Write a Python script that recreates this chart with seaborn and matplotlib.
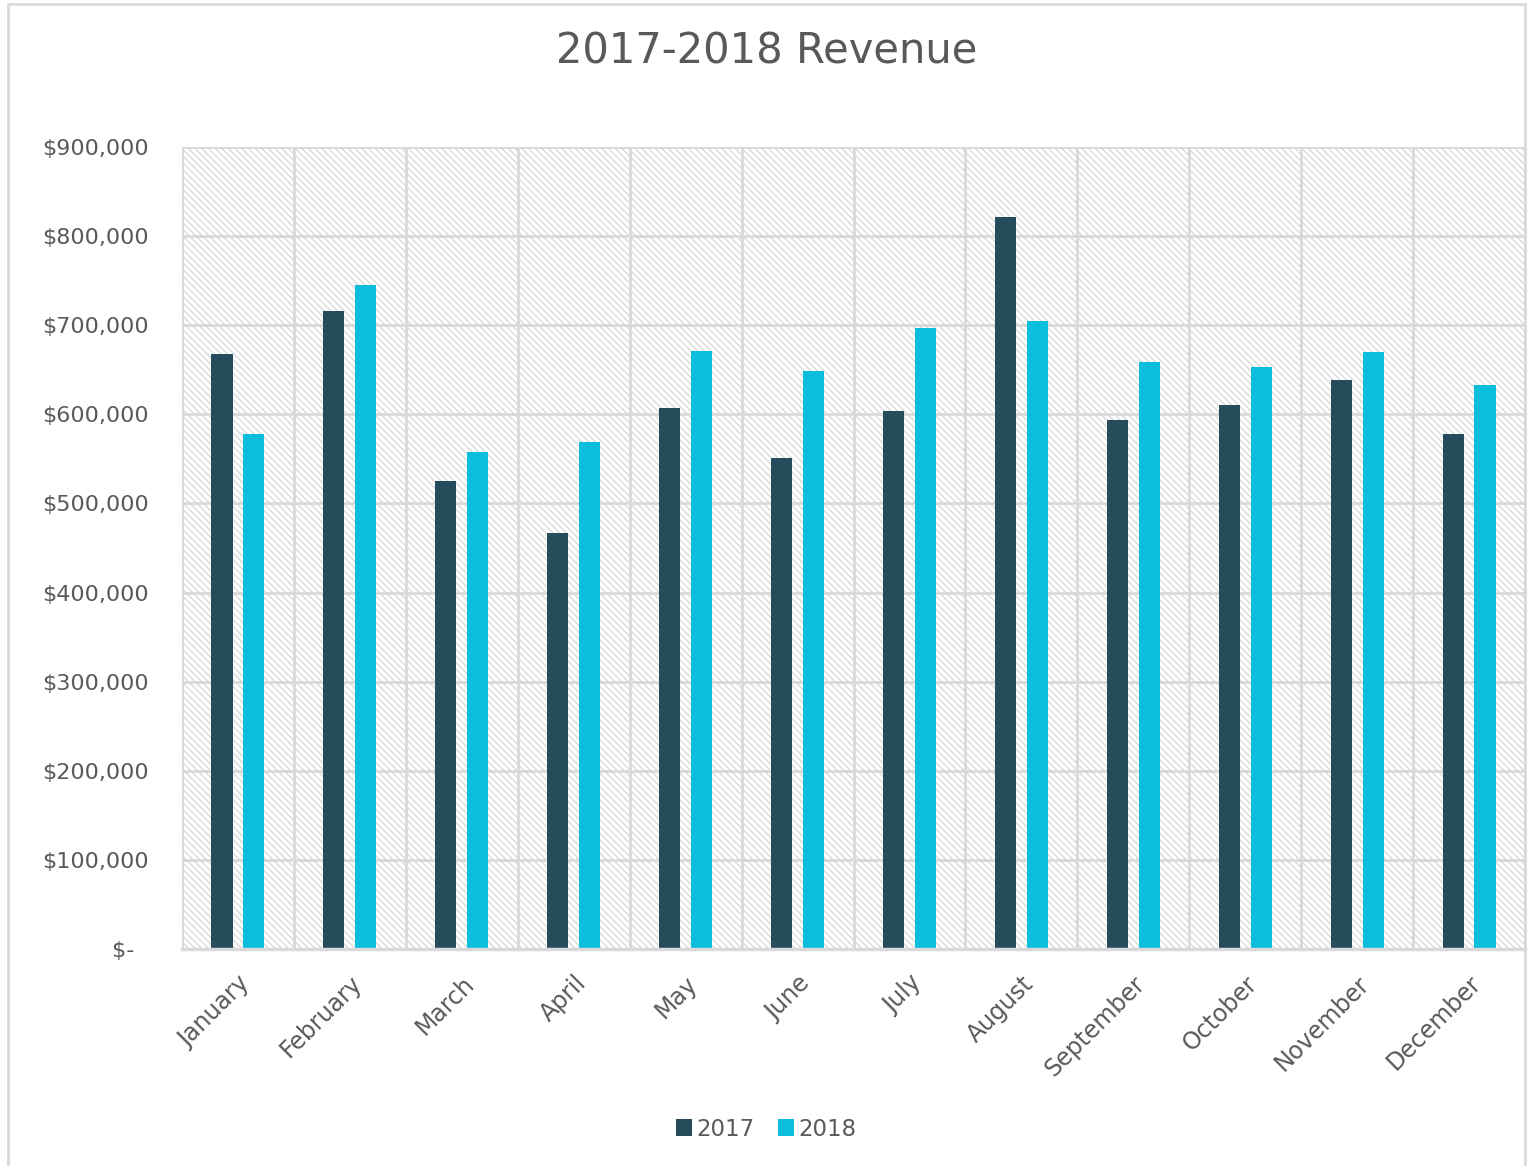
import matplotlib
matplotlib.use("Agg")
import matplotlib.pyplot as plt
from matplotlib.patches import Rectangle, Patch
from matplotlib.ticker import FuncFormatter
import numpy as np
import pandas as pd
import seaborn as sns

months = ["January", "February", "March", "April", "May", "June", "July",
          "August", "September", "October", "November", "December"]
revenue_2017 = [668000, 716000, 525000, 467000, 607000, 551000, 604000,
                821000, 594000, 610000, 638000, 578000]
revenue_2018 = [578000, 745000, 558000, 569000, 671000, 649000, 697000,
                705000, 659000, 653000, 670000, 633000]
years = ["2017", "2018"]
colors = ["#264b5b", "#0bbfdc"]

df = pd.DataFrame({
    "Month": months * 2,
    "Year": [years[0]] * 12 + [years[1]] * 12,
    "Revenue": revenue_2017 + revenue_2018,
})

sns.set_theme(style="white")
plt.rcParams["font.family"] = ["DejaVu Sans"]
plt.rcParams["hatch.color"] = "#dadada"
plt.rcParams["hatch.linewidth"] = 1.0

text_color = "#595959"
grid_color = "#d9d9d9"

fig = plt.figure(figsize=(15.33, 11.66), dpi=100)
W, H = 1533, 1166
ax = fig.add_axes([182 / W, 1 - 949 / H, (1525 - 182) / W, (949 - 147) / H])

# hatched plot-area background
ax.add_patch(Rectangle((0, 0), 1, 1, transform=ax.transAxes, facecolor="white",
                       edgecolor="#dadada", hatch="\\\\\\\\\\", linewidth=0, zorder=0))

sns.barplot(data=df, x="Month", y="Revenue", hue="Year", palette=colors,
            width=0.57, gap=0.34, saturation=1, errorbar=None, ax=ax, zorder=3,
            linewidth=0)

ax.set_xlim(-0.5, 11.5)
ax.set_ylim(0, 900000)
ax.set_yticks(np.arange(0, 900001, 100000))
ax.yaxis.set_major_formatter(FuncFormatter(
    lambda v, p: "$-  " if v == 0 else f"${v:,.0f}"))

# gridlines: horizontal at each tick, vertical at category boundaries
for yv in np.arange(100000, 900001, 100000):
    ax.axhline(yv, color=grid_color, linewidth=2, zorder=1)
for xv in np.arange(-0.5, 12, 1.0):
    ax.axvline(xv, color=grid_color, linewidth=2, zorder=1)

for side in ["top", "right", "left"]:
    ax.spines[side].set_visible(False)
ax.spines["bottom"].set_color(grid_color)
ax.spines["bottom"].set_linewidth(2.5)
ax.spines["bottom"].set_zorder(4)

ax.set_xlabel("")
ax.set_ylabel("")
ax.tick_params(axis="y", length=0, pad=24, labelsize=16, labelcolor=text_color)
ax.tick_params(axis="x", length=0, pad=16, labelsize=17, labelcolor=text_color)
plt.setp(ax.get_xticklabels(), rotation=45, ha="right", va="top",
         rotation_mode="anchor")

ax.legend_.remove()
handles = [Patch(facecolor=c, edgecolor="none") for c in colors]
fig.legend(handles, years, loc="center", bbox_to_anchor=(0.5, 1 - 1129 / H),
           ncol=2, frameon=False, fontsize=16.5, handlelength=0.7, handleheight=0.7,
           handletextpad=0.2, columnspacing=1.0, labelcolor=text_color)

fig.text(0.5, 1 - 51 / H, "2017-2018 Revenue", ha="center", va="center",
         fontsize=30, color=text_color)

# chart border
fig.patches.append(Rectangle((8 / W, -0.01), (1525 - 8) / W, 1 - 4 / H + 0.01,
                             transform=fig.transFigure, fill=False,
                             edgecolor="#d9d9d9", linewidth=2))

fig.savefig("out.png", dpi=100)
